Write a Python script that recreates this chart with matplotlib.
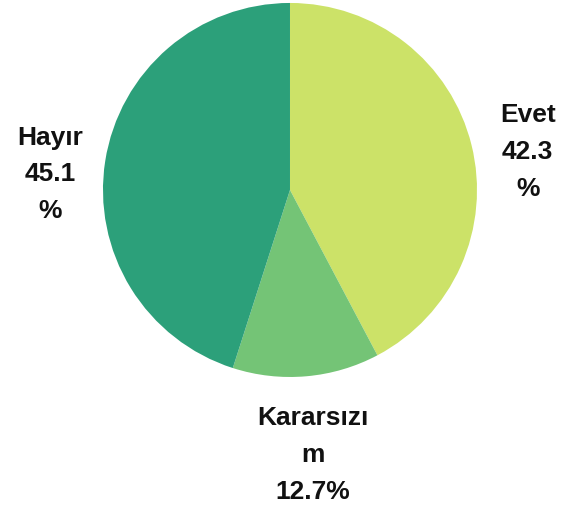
import numpy as np
import matplotlib.pyplot as plt

plt.rcParams['font.family'] = ['Liberation Sans', 'DejaVu Sans']

# data
categories = ['Evet', 'Kararsızım', 'Hayır']
values = [42.3, 12.7, 45.1]
colors = ['#cce268', '#74c476', '#2ca07a']
# wrapped label text as shown in the chart
label_texts = ['Evet\n42.3\n%', 'Kararsızı\nm\n12.7%', 'Hayır\n45.1\n%']

fig = plt.figure(figsize=(5.74, 5.12), dpi=100)
ax = fig.add_axes([0.1794, 0.2637, 0.6516, 0.7305])

wedges, _ = ax.pie(values, colors=colors, startangle=90, counterclock=False,
                   wedgeprops=dict(linewidth=0))

# label distance and small vertical shift per slice
dists = [1.31, 1.40, 1.30]
shifts = [-0.113, -0.023, -0.118]
for w, txt, d, dy in zip(wedges, label_texts, dists, shifts):
    ang = np.deg2rad((w.theta1 + w.theta2) / 2)
    ax.text(d * np.cos(ang), d * np.sin(ang) + dy, txt, ha='center', va='center',
            fontsize=19, fontweight='bold', linespacing=1.68, color='#111111')

ax.set_xlim(-1, 1)
ax.set_ylim(-1, 1)
ax.set_aspect('equal')
ax.axis('off')

fig.savefig('out.png', dpi=100)
